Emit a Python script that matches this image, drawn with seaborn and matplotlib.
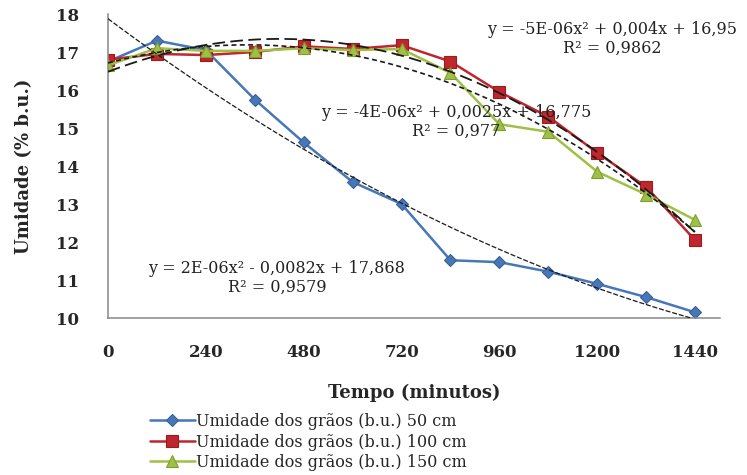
import numpy as np
import pandas as pd
import seaborn as sns
import matplotlib
matplotlib.use('Agg')
import matplotlib.pyplot as plt

# values
tempo = [0, 120, 240, 360, 480, 600, 720, 840, 960, 1080, 1200, 1320, 1440]
umid_50 = [16.75, 17.3, 17.05, 15.75, 14.62, 13.58, 13.0, 11.52, 11.47, 11.22, 10.9, 10.55, 10.15]
umid_100 = [16.8, 16.95, 16.92, 17.0, 17.15, 17.08, 17.18, 16.75, 15.95, 15.3, 14.35, 13.45, 12.05]
umid_150 = [16.65, 17.1, 17.03, 17.03, 17.1, 17.05, 17.08, 16.45, 15.1, 14.9, 13.85, 13.25, 12.58]

nomes = ['Umidade dos grãos (b.u.) 50 cm',
         'Umidade dos grãos (b.u.) 100 cm',
         'Umidade dos grãos (b.u.) 150 cm']
equacoes = ['y = 2E-06x² - 0,0082x + 17,868\nR² = 0,9579',
            'y = -5E-06x² + 0,004x + 16,95\nR² = 0,9862',
            'y = -4E-06x² + 0,0025x + 16,775\nR² = 0,977']
xticks = [0, 240, 480, 720, 960, 1200, 1440]
yticks = [10, 11, 12, 13, 14, 15, 16, 17, 18]

sns.set_theme(style='white')
plt.rcParams['font.family'] = ['DejaVu Serif']

df = pd.DataFrame({'tempo': tempo, 's50': umid_50, 's100': umid_100, 's150': umid_150})

fig = plt.figure(figsize=(7.47, 4.75), dpi=100)
ax = fig.add_axes([0.1446, 0.3305, 0.8186, 0.64])

estilos = [
    ('s50', '#4677b8', '#3a5f95', 'D', 6.5),
    ('s100', '#c0262d', '#9b1c1f', 's', 8.5),
    ('s150', '#9fc046', '#7f9e2f', '^', 8),
]
handles = []
for (col, cor, borda, mk, ms), nome in zip(estilos, nomes):
    sns.lineplot(data=df, x='tempo', y=col, ax=ax, color=cor, lw=1.8,
                 marker=mk, markersize=ms, markerfacecolor=cor,
                 markeredgecolor=borda, markeredgewidth=0.8)
    handles.append(ax.lines[-1])

# quadratic trend lines (Excel-style)
trend_styles = [(0, (4, 1.5)), (0, (7, 3)), (0, (3, 2))]
trend_lw = [0.9, 1.3, 1.2]
for col, ls, lw in zip(['s50', 's100', 's150'], trend_styles, trend_lw):
    sns.regplot(data=df, x='tempo', y=col, order=2, ci=None, scatter=False, ax=ax,
                line_kws=dict(color='#1a1a1a', lw=lw, ls=ls, zorder=5))

ax.set_xlim(0, 1500)
ax.set_ylim(10, 18)
ax.set_xticks(xticks)
ax.set_yticks(yticks)
ax.set_xticklabels([str(t) for t in xticks], fontsize=12, fontweight='bold')
ax.set_yticklabels([str(t) for t in yticks], fontsize=12, fontweight='bold')
ax.tick_params(axis='x', direction='out', length=5, width=1, color='#999999', pad=14)
ax.tick_params(axis='y', direction='out', length=7, width=1, color='#999999', pad=14)
for s in ['top', 'right']:
    ax.spines[s].set_visible(False)
for s in ['left', 'bottom']:
    ax.spines[s].set_color('#888888')
    ax.spines[s].set_linewidth(1.1)

ax.set_xlabel('Tempo (minutos)', fontsize=13, fontweight='bold', labelpad=16)
ax.set_ylabel('Umidade (% b.u.)', fontsize=13, fontweight='bold', labelpad=16)

# equation labels
pos = [(277 / 747, 1 - 278 / 475), (612 / 747, 1 - 39 / 475), (456 / 747, 1 - 122 / 475)]
for (px, py), txt in zip(pos, equacoes):
    fig.text(px, py, txt, ha='center', va='center', fontsize=11.5,
             linespacing=1.2, color='#222222')

ax.legend(handles=handles, labels=nomes, loc='upper left',
          bbox_to_anchor=(150 / 747, 1 - 413 / 475), bbox_transform=fig.transFigure,
          frameon=False, fontsize=11.5, handlelength=2.8, handletextpad=0.1,
          labelspacing=0.22, borderpad=0, borderaxespad=0)

fig.savefig('out.png', dpi=100)
